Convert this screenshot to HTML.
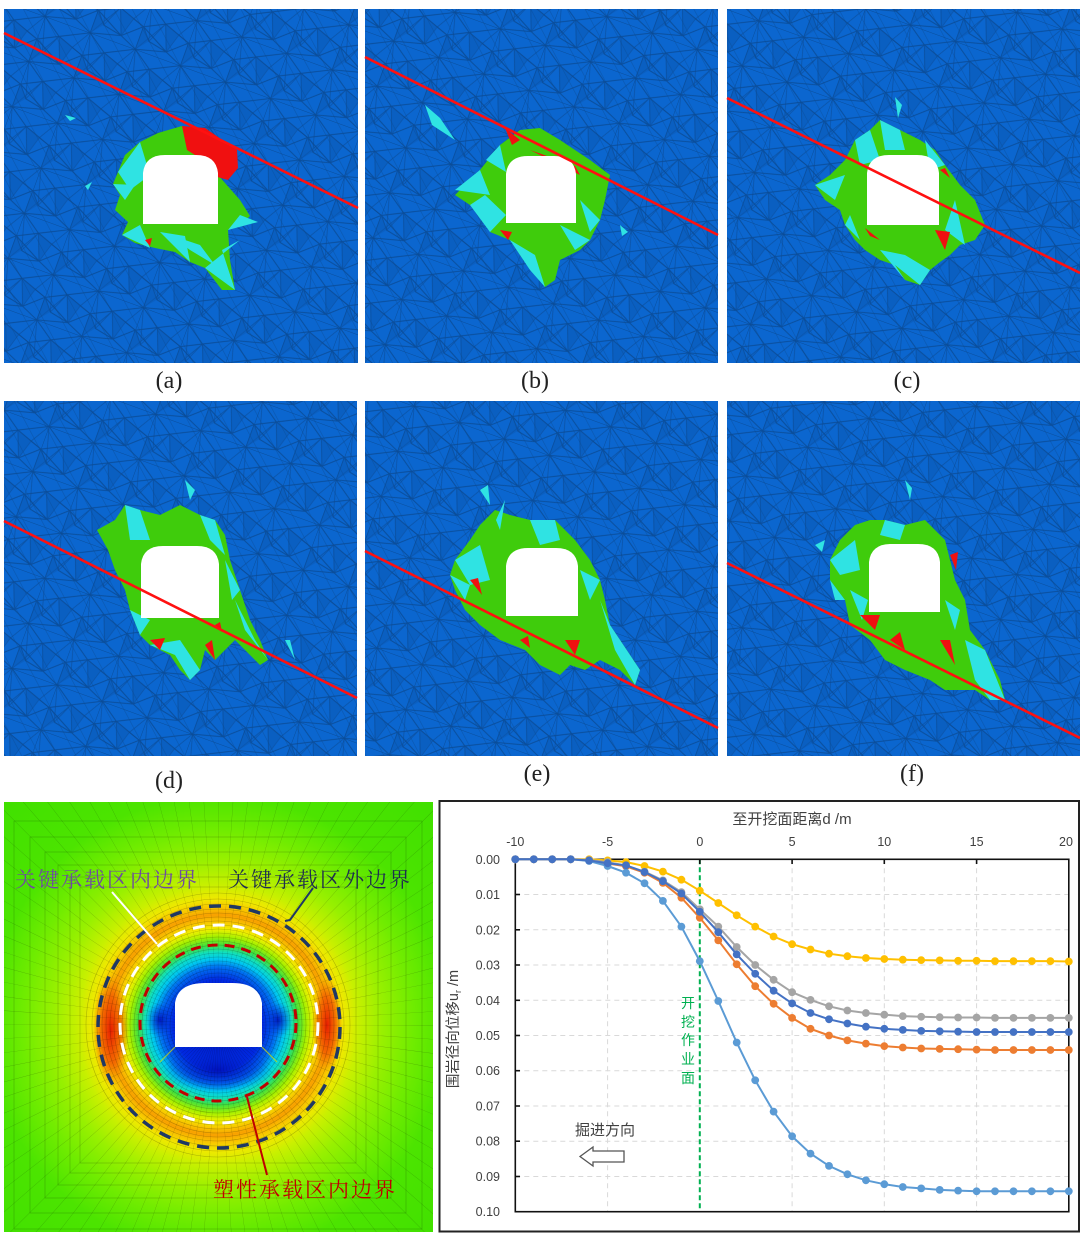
<!DOCTYPE html>
<html>
<head>
<meta charset="utf-8">
<style>
html,body{margin:0;padding:0;background:#fff;}
svg{display:block;}
</style>
</head>
<body>
<svg width="1080" height="1238" viewBox="0 0 1080 1238" xmlns="http://www.w3.org/2000/svg">
<defs>
  <pattern id="mesh" width="48" height="48" patternUnits="userSpaceOnUse" patternTransform="rotate(20)">
    <rect width="48" height="48" fill="#0B66CF"/>
    <path d="M0 0L48 0M0 0L20 14L48 0M20 14L48 24L30 40L0 24L20 14M0 24L0 48L30 40L48 48M48 24L48 48M20 14L30 40M0 0L0 24M30 40L48 24M0 24L10 36L30 40" stroke="#0A4890" stroke-width="1" fill="none" opacity="0.8"/>
    <path d="M20 14L10 36M48 0L36 20L48 24M36 20L20 14M0 0L10 36M20 14L0 48M30 40L36 20" stroke="#0A4890" stroke-width="0.8" fill="none" opacity="0.65"/>
    <polygon points="20,14 36,20 30,40" fill="#0A58B4" opacity="0.5"/>
    <polygon points="0,24 10,36 0,48" fill="#0A58B4" opacity="0.5"/>
  </pattern>
  <pattern id="streak" width="16" height="16" patternUnits="userSpaceOnUse" patternTransform="rotate(-28)">
    <line x1="0" y1="0" x2="0" y2="16" stroke="#0A4A90" stroke-width="1.3" opacity="0.5"/>
  </pattern>
  <radialGradient id="cg" gradientUnits="userSpaceOnUse" cx="218" cy="1025" r="310">
    <stop offset="0" stop-color="#0018C0"/>
    <stop offset="0.145" stop-color="#0028E0"/>
    <stop offset="0.187" stop-color="#0070F0"/>
    <stop offset="0.213" stop-color="#00C8F0"/>
    <stop offset="0.235" stop-color="#10E0C0"/>
    <stop offset="0.258" stop-color="#40E040"/>
    <stop offset="0.284" stop-color="#A0F000"/>
    <stop offset="0.310" stop-color="#F0F000"/>
    <stop offset="0.332" stop-color="#F8C800"/>
    <stop offset="0.355" stop-color="#F8A000"/>
    <stop offset="0.381" stop-color="#F8C800"/>
    <stop offset="0.406" stop-color="#F0E800"/>
    <stop offset="0.452" stop-color="#C8F000"/>
    <stop offset="0.532" stop-color="#98F000"/>
    <stop offset="0.629" stop-color="#70EC00"/>
    <stop offset="0.742" stop-color="#4CE400"/>
    <stop offset="1" stop-color="#40E000"/>
  </radialGradient>
  <radialGradient id="redb">
    <stop offset="0" stop-color="#E81800" stop-opacity="0.95"/>
    <stop offset="0.6" stop-color="#F04000" stop-opacity="0.6"/>
    <stop offset="1" stop-color="#F06000" stop-opacity="0"/>
  </radialGradient>
  <radialGradient id="blueb">
    <stop offset="0" stop-color="#0010B8" stop-opacity="0.9"/>
    <stop offset="1" stop-color="#0030E0" stop-opacity="0"/>
  </radialGradient>
  <clipPath id="cc"><rect x="4" y="802" width="429" height="430"/></clipPath>
  <marker id="mY" markerWidth="10" markerHeight="10" refX="5" refY="5" markerUnits="userSpaceOnUse"><circle cx="5" cy="5" r="3.9" fill="#FFC000"/></marker>
  <marker id="mG" markerWidth="10" markerHeight="10" refX="5" refY="5" markerUnits="userSpaceOnUse"><circle cx="5" cy="5" r="3.9" fill="#A5A5A5"/></marker>
  <marker id="mO" markerWidth="10" markerHeight="10" refX="5" refY="5" markerUnits="userSpaceOnUse"><circle cx="5" cy="5" r="3.9" fill="#ED7D31"/></marker>
  <marker id="mL" markerWidth="10" markerHeight="10" refX="5" refY="5" markerUnits="userSpaceOnUse"><circle cx="5" cy="5" r="3.9" fill="#5B9BD5"/></marker>
  <marker id="mB" markerWidth="10" markerHeight="10" refX="5" refY="5" markerUnits="userSpaceOnUse"><circle cx="5" cy="5" r="3.9" fill="#4472C4"/></marker>
</defs>

<rect width="1080" height="1238" fill="#fff"/>

<!-- ===== Panel (a) ===== -->
<g>
  <rect x="4" y="9" width="354" height="354" fill="url(#mesh)"/>
  <rect x="4" y="9" width="354" height="354" fill="url(#streak)"/>
  <polygon points="118,172 125,155 140,142 158,133 182,126 205,150 218,175 240,200 250,216 240,225 228,230 230,260 235,290 222,290 205,268 190,262 175,252 155,248 135,243 122,235 128,222 115,210 120,195 113,184" fill="#3FCC0C"/>
  <g fill="#2FE3E3">
    <polygon points="118,172 140,142 150,175 130,190"/>
    <polygon points="122,235 150,248 140,225"/>
    <polygon points="205,268 235,290 222,250 240,240"/>
    <polygon points="228,230 258,222 240,215"/>
    <polygon points="160,232 190,262 185,236"/>
    <polygon points="65,115 76,118 70,121"/>
    <polygon points="85,186 92,182 88,190"/>
    <polygon points="113,184 125,200 135,185"/>
    <polygon points="170,235 200,245 215,265 190,250"/>
  </g>
  <polygon points="182,126 205,128 237,150 238,168 228,180 214,176 203,160 187,150" fill="#F01010"/>
  <polygon points="145,240 150,246 152,238" fill="#F01010"/>
  <path d="M143,224 L143,173 Q145,155 165,155 L196,155 Q216,155 218,173 L218,224 Z" fill="#fff"/>
  <line x1="4" y1="33" x2="358" y2="208" stroke="#FF1010" stroke-width="2.6"/>
</g>

<!-- ===== Panel (b) ===== -->
<g>
  <rect x="365" y="9" width="353" height="354" fill="url(#mesh)"/>
  <rect x="365" y="9" width="353" height="354" fill="url(#streak)"/>
  <polygon points="460,190 480,170 500,145 520,130 540,128 560,140 590,160 610,175 605,200 600,220 590,240 580,250 560,260 555,280 545,287 535,275 520,255 510,240 490,232 485,220 470,205 455,195" fill="#3FCC0C"/>
  <g fill="#2FE3E3">
    <polygon points="425,105 432,125 455,140 440,118"/>
    <polygon points="470,205 490,232 506,215 485,195"/>
    <polygon points="510,240 530,270 545,287 535,255"/>
    <polygon points="560,225 590,240 575,250"/>
    <polygon points="455,190 480,170 490,195"/>
    <polygon points="620,225 628,232 622,236"/>
    <polygon points="486,160 500,145 506,172"/>
    <polygon points="580,200 600,220 590,232"/>
  </g>
  <g fill="#F01010">
    <polygon points="505,128 512,145 520,140"/>
    <polygon points="530,150 580,175 575,166"/>
    <polygon points="540,180 555,200 560,185"/>
    <polygon points="500,230 508,240 512,232"/>
  </g>
  <path d="M506,223 L506,174 Q508,156 528,156 L554,156 Q574,156 576,174 L576,223 Z" fill="#fff"/>
  <line x1="365" y1="57" x2="718" y2="235" stroke="#FF1010" stroke-width="2.6"/>
</g>

<!-- ===== Panel (c) ===== -->
<g>
  <rect x="727" y="9" width="353" height="354" fill="url(#mesh)"/>
  <rect x="727" y="9" width="353" height="354" fill="url(#streak)"/>
  <polygon points="815,185 830,175 845,160 855,140 870,130 880,120 900,130 920,140 935,150 945,165 960,185 975,200 985,225 975,240 960,245 950,255 940,262 930,270 920,285 905,280 895,265 880,260 865,250 855,240 845,225 840,210 825,200" fill="#3FCC0C"/>
  <g fill="#2FE3E3">
    <polygon points="855,140 870,130 880,160 860,165"/>
    <polygon points="895,97 898,118 902,105"/>
    <polygon points="815,185 845,175 835,200"/>
    <polygon points="925,140 945,165 930,170"/>
    <polygon points="880,250 905,280 895,265 920,285 930,270 905,255"/>
    <polygon points="845,225 860,240 850,215"/>
    <polygon points="880,120 900,130 905,150 885,150"/>
    <polygon points="945,230 965,245 955,200"/>
  </g>
  <g fill="#F01010">
    <polygon points="865,228 880,240 870,236"/>
    <polygon points="935,230 945,250 950,232"/>
    <polygon points="940,170 950,178 945,168"/>
  </g>
  <path d="M867,225 L867,173 Q869,155 889,155 L917,155 Q937,155 939,173 L939,225 Z" fill="#fff"/>
  <line x1="727" y1="98" x2="1080" y2="273" stroke="#FF1010" stroke-width="2.6"/>
</g>

<!-- ===== Panel (d) ===== -->
<g>
  <rect x="4" y="401" width="353" height="355" fill="url(#mesh)"/>
  <rect x="4" y="401" width="353" height="355" fill="url(#streak)"/>
  <polygon points="97,530 115,520 125,505 140,510 160,515 180,505 200,515 215,520 225,535 230,560 240,590 250,620 260,640 268,660 260,665 245,650 235,640 225,650 215,660 205,650 200,670 190,680 180,670 170,655 150,645 140,635 130,610 125,590 115,570 108,550" fill="#3FCC0C"/>
  <g fill="#2FE3E3">
    <polygon points="185,480 190,500 195,490"/>
    <polygon points="125,505 140,510 150,540 130,540"/>
    <polygon points="200,515 215,520 225,555 210,540"/>
    <polygon points="235,600 255,640 268,660 245,630"/>
    <polygon points="150,645 175,655 190,680 200,670 180,640"/>
    <polygon points="130,610 140,635 150,620"/>
    <polygon points="285,640 295,660 290,640"/>
    <polygon points="225,560 240,590 232,600"/>
  </g>
  <g fill="#F01010">
    <polygon points="150,640 160,650 165,638"/>
    <polygon points="205,645 215,660 212,640"/>
    <polygon points="215,625 222,632 220,622"/>
  </g>
  <path d="M141,618 L141,564 Q143,546 163,546 L197,546 Q217,546 219,564 L219,618 Z" fill="#fff"/>
  <line x1="4" y1="521" x2="357" y2="698" stroke="#FF1010" stroke-width="2.6"/>
</g>

<!-- ===== Panel (e) ===== -->
<g>
  <rect x="365" y="401" width="353" height="355" fill="url(#mesh)"/>
  <rect x="365" y="401" width="353" height="355" fill="url(#streak)"/>
  <polygon points="455,560 470,540 480,525 495,510 510,515 530,520 555,520 575,540 590,560 600,580 605,600 610,625 620,640 640,670 635,685 620,670 600,660 585,670 570,665 560,675 540,665 525,650 500,640 480,625 465,610 455,590 450,575" fill="#3FCC0C"/>
  <g fill="#2FE3E3">
    <polygon points="480,490 490,505 488,485"/>
    <polygon points="455,560 480,545 490,580 470,585"/>
    <polygon points="530,520 555,520 560,540 540,545"/>
    <polygon points="600,600 610,625 640,670 635,685 615,650"/>
    <polygon points="450,575 470,585 465,600"/>
    <polygon points="496,520 505,500 500,530"/>
    <polygon points="580,570 600,580 590,600"/>
  </g>
  <g fill="#F01010">
    <polygon points="470,580 482,595 478,578"/>
    <polygon points="565,640 575,655 580,640"/>
    <polygon points="520,640 530,648 528,636"/>
  </g>
  <path d="M506,616 L506,566 Q508,548 528,548 L556,548 Q576,548 578,566 L578,616 Z" fill="#fff"/>
  <line x1="365" y1="551" x2="718" y2="728" stroke="#FF1010" stroke-width="2.6"/>
</g>

<!-- ===== Panel (f) ===== -->
<g>
  <rect x="727" y="401" width="353" height="355" fill="url(#mesh)"/>
  <rect x="727" y="401" width="353" height="355" fill="url(#streak)"/>
  <polygon points="830,560 840,540 855,525 870,520 885,520 905,525 925,520 945,540 950,560 955,580 965,600 970,630 985,650 1000,680 1005,700 990,700 975,690 960,690 945,690 930,680 905,670 885,660 870,640 850,625 845,600 830,580" fill="#3FCC0C"/>
  <g fill="#2FE3E3">
    <polygon points="905,480 910,500 912,488"/>
    <polygon points="830,560 855,540 860,570 840,575"/>
    <polygon points="885,520 905,525 900,540 880,535"/>
    <polygon points="965,640 985,650 1005,700 990,700 975,680"/>
    <polygon points="830,580 845,600 835,600"/>
    <polygon points="815,545 825,540 822,552"/>
    <polygon points="850,590 868,600 862,620"/>
    <polygon points="945,600 960,610 955,630"/>
  </g>
  <g fill="#F01010">
    <polygon points="860,615 875,630 880,615"/>
    <polygon points="890,640 905,650 900,632"/>
    <polygon points="940,640 955,665 950,640"/>
    <polygon points="950,555 956,570 958,552"/>
  </g>
  <path d="M869,612 L869,562 Q871,544 891,544 L918,544 Q938,544 940,562 L940,612 Z" fill="#fff"/>
  <line x1="727" y1="563" x2="1080" y2="738" stroke="#FF1010" stroke-width="2.6"/>
</g>

<!-- panel labels -->
<g font-family="'Liberation Serif', serif" font-size="24" fill="#222" text-anchor="middle">
  <text x="169" y="388">(a)</text>
  <text x="535" y="388">(b)</text>
  <text x="907" y="388">(c)</text>
  <text x="169" y="788">(d)</text>
  <text x="537" y="781">(e)</text>
  <text x="912" y="781">(f)</text>
</g>

<!-- ===== Contour plot ===== -->
<g clip-path="url(#cc)">
  <rect x="4" y="802" width="429" height="430" fill="url(#cg)"/>
  <ellipse cx="111" cy="1030" rx="18" ry="56" fill="url(#redb)"/>
  <ellipse cx="327" cy="1025" rx="15" ry="48" fill="url(#redb)"/>
  <ellipse cx="218" cy="1070" rx="55" ry="22" fill="url(#blueb)"/>
  <ellipse cx="160" cy="1020" rx="14" ry="18" fill="url(#blueb)"/>
  <ellipse cx="278" cy="1020" rx="14" ry="18" fill="url(#blueb)"/>
  <!-- mesh -->
  <circle cx="218" cy="1025" r="160" fill="none" stroke="#000" stroke-opacity="0.26" stroke-width="320" stroke-dasharray="0.3 10.17"/>
  <g fill="none" stroke="#000" stroke-opacity="0.24" stroke-width="0.6">
    <circle cx="218" cy="1025" r="48"/><circle cx="218" cy="1025" r="52"/><circle cx="218" cy="1025" r="56"/>
    <circle cx="218" cy="1025" r="60"/><circle cx="218" cy="1025" r="64"/><circle cx="218" cy="1025" r="68"/>
    <circle cx="218" cy="1025" r="72"/><circle cx="218" cy="1025" r="76"/><circle cx="218" cy="1025" r="80"/>
    <circle cx="218" cy="1025" r="84"/><circle cx="218" cy="1025" r="88"/><circle cx="218" cy="1025" r="92"/>
    <circle cx="218" cy="1025" r="96"/><circle cx="218" cy="1025" r="100"/><circle cx="218" cy="1025" r="104"/>
    <circle cx="218" cy="1025" r="108"/><circle cx="218" cy="1025" r="112"/><circle cx="218" cy="1025" r="116"/>
    <circle cx="218" cy="1025" r="121"/><circle cx="218" cy="1025" r="126"/><circle cx="218" cy="1025" r="132"/>
    <rect x="80" y="887" width="276" height="276"/>
    <rect x="70" y="877" width="296" height="296"/>
    <rect x="58" y="865" width="320" height="320"/>
    <rect x="45" y="852" width="346" height="346"/>
    <rect x="30" y="837" width="376" height="376"/>
    <rect x="14" y="821" width="408" height="408"/>
  </g>
  <line x1="175" y1="1047" x2="160" y2="1062" stroke="#D8E000" stroke-width="1.2" opacity="0.7"/>
  <line x1="262" y1="1047" x2="277" y2="1062" stroke="#D8E000" stroke-width="1.2" opacity="0.7"/>
  <path d="M175,1047 L175,1003 Q178,983 205,983 L232,983 Q259,983 262,1003 L262,1047 Z" fill="#fff"/>
  <!-- boundaries -->
  <circle cx="219" cy="1027" r="121" fill="none" stroke="#1F3864" stroke-width="3.5" stroke-dasharray="12 8"/>
  <circle cx="219" cy="1024" r="99" fill="none" stroke="#fff" stroke-width="3" stroke-dasharray="12 8"/>
  <circle cx="218" cy="1023" r="78" fill="none" stroke="#C00000" stroke-width="3" stroke-dasharray="10 7"/>
  <line x1="112" y1="892" x2="157" y2="944" stroke="#fff" stroke-width="2"/>
  <polyline points="313,888 290,920 285,921" fill="none" stroke="#1F3864" stroke-width="2"/>
  <line x1="247" y1="1097" x2="267" y2="1175" stroke="#C00000" stroke-width="2"/>
  <g font-family="'Liberation Serif','Noto Serif CJK SC',serif" font-size="21">
    <text x="15" y="887" fill="#6F4BA0" textLength="182" lengthAdjust="spacing">关键承载区内边界</text>
    <text x="228" y="887" fill="#1F2D50" textLength="182" lengthAdjust="spacing">关键承载区外边界</text>
    <text x="213" y="1197" fill="#C00000" textLength="182" lengthAdjust="spacing">塑性承载区内边界</text>
  </g>
</g>

<!-- ===== Chart ===== -->
<rect x="439.5" y="801" width="639.5" height="430.5" fill="#fff" stroke="#222" stroke-width="2"/>
<g stroke="#D9D9D9" stroke-width="1" stroke-dasharray="5 4" fill="none">
  <line x1="515.3" y1="894.5" x2="1068.8" y2="894.5"/>
  <line x1="515.3" y1="929.8" x2="1068.8" y2="929.8"/>
  <line x1="515.3" y1="965.0" x2="1068.8" y2="965.0"/>
  <line x1="515.3" y1="1000.3" x2="1068.8" y2="1000.3"/>
  <line x1="515.3" y1="1035.5" x2="1068.8" y2="1035.5"/>
  <line x1="515.3" y1="1070.7" x2="1068.8" y2="1070.7"/>
  <line x1="515.3" y1="1106.0" x2="1068.8" y2="1106.0"/>
  <line x1="515.3" y1="1141.2" x2="1068.8" y2="1141.2"/>
  <line x1="515.3" y1="1176.5" x2="1068.8" y2="1176.5"/>
  <line x1="607.6" y1="859.3" x2="607.6" y2="1211.7"/>
  <line x1="792.1" y1="859.3" x2="792.1" y2="1211.7"/>
  <line x1="884.3" y1="859.3" x2="884.3" y2="1211.7"/>
  <line x1="976.6" y1="859.3" x2="976.6" y2="1211.7"/>
</g>
<line x1="699.8" y1="859.3" x2="699.8" y2="1211.7" stroke="#00B050" stroke-width="2" stroke-dasharray="5 3"/>
<rect x="515.3" y="859.3" width="553.5" height="352.4" fill="none" stroke="#111" stroke-width="1.6"/>
<g stroke="#111" stroke-width="1.6">
  <line x1="607.6" y1="859.3" x2="607.6" y2="864"/>
  <line x1="699.8" y1="859.3" x2="699.8" y2="864"/>
  <line x1="792.1" y1="859.3" x2="792.1" y2="864"/>
  <line x1="884.3" y1="859.3" x2="884.3" y2="864"/>
  <line x1="976.6" y1="859.3" x2="976.6" y2="864"/>
  <line x1="515.3" y1="894.5" x2="520" y2="894.5"/>
  <line x1="515.3" y1="929.8" x2="520" y2="929.8"/>
  <line x1="515.3" y1="965.0" x2="520" y2="965.0"/>
  <line x1="515.3" y1="1000.3" x2="520" y2="1000.3"/>
  <line x1="515.3" y1="1035.5" x2="520" y2="1035.5"/>
  <line x1="515.3" y1="1070.7" x2="520" y2="1070.7"/>
  <line x1="515.3" y1="1106.0" x2="520" y2="1106.0"/>
  <line x1="515.3" y1="1141.2" x2="520" y2="1141.2"/>
  <line x1="515.3" y1="1176.5" x2="520" y2="1176.5"/>
</g>

<!-- series -->
<g fill="none" stroke-width="2">
<polyline stroke="#FFC000" marker-start="url(#mY)" marker-mid="url(#mY)" marker-end="url(#mY)" points="515.3,859.3 533.8,859.3 552.2,859.3 570.7,859.3 589.1,859.3 607.6,860.4 626.0,862.1 644.5,866.0 662.9,871.6 681.4,879.7 699.8,890.7 718.3,903.0 736.7,915.3 755.2,926.6 773.6,936.5 792.1,944.2 810.5,949.5 829.0,953.7 847.4,956.2 865.9,958.0 884.3,959.0 902.8,959.7 921.2,960.1 939.7,960.4 958.1,960.8 976.6,960.8 995.0,961.1 1013.5,961.1 1031.9,961.1 1050.4,961.1 1068.8,961.5"/>
<polyline stroke="#A5A5A5" marker-start="url(#mG)" marker-mid="url(#mG)" marker-end="url(#mG)" points="515.3,859.3 533.8,859.3 552.2,859.3 570.7,859.3 589.1,860.0 607.6,862.1 626.0,865.6 644.5,871.6 662.9,880.4 681.4,892.1 699.8,909.3 718.3,926.6 736.7,947.0 755.2,965.0 773.6,979.8 792.1,992.2 810.5,999.9 829.0,1006.3 847.4,1010.5 865.9,1013.0 884.3,1014.7 902.8,1016.1 921.2,1016.8 939.7,1017.2 958.1,1017.5 976.6,1017.5 995.0,1017.9 1013.5,1017.9 1031.9,1017.9 1050.4,1017.9 1068.8,1017.9"/>
<polyline stroke="#ED7D31" marker-start="url(#mO)" marker-mid="url(#mO)" marker-end="url(#mO)" points="515.3,859.3 533.8,859.3 552.2,859.3 570.7,859.3 589.1,860.5 607.6,863.5 626.0,866.3 644.5,872.7 662.9,882.9 681.4,897.7 699.8,917.8 718.3,940.4 736.7,964.3 755.2,986.2 773.6,1003.8 792.1,1017.9 810.5,1028.8 829.0,1035.5 847.4,1040.4 865.9,1043.6 884.3,1046.1 902.8,1047.5 921.2,1048.5 939.7,1048.9 958.1,1049.2 976.6,1049.6 995.0,1050.0 1013.5,1050.0 1031.9,1050.0 1050.4,1050.0 1068.8,1050.0"/>
<polyline stroke="#5B9BD5" marker-start="url(#mL)" marker-mid="url(#mL)" marker-end="url(#mL)" points="515.3,859.3 533.8,859.3 552.2,859.3 570.7,859.3 589.1,861.0 607.6,866.0 626.0,872.7 644.5,883.3 662.9,900.9 681.4,926.6 699.8,961.1 718.3,1001.0 736.7,1042.5 755.2,1080.3 773.6,1111.6 792.1,1136.3 810.5,1153.6 829.0,1165.9 847.4,1174.3 865.9,1180.3 884.3,1184.2 902.8,1187.0 921.2,1188.4 939.7,1189.9 958.1,1190.6 976.6,1191.3 995.0,1191.3 1013.5,1191.3 1031.9,1191.3 1050.4,1191.3 1068.8,1191.3"/>
<polyline stroke="#4472C4" marker-start="url(#mB)" marker-mid="url(#mB)" marker-end="url(#mB)" points="515.3,859.3 533.8,859.3 552.2,859.3 570.7,859.3 589.1,860.5 607.6,863.2 626.0,865.3 644.5,872.0 662.9,881.2 681.4,893.5 699.8,911.8 718.3,932.2 736.7,954.4 755.2,973.8 773.6,990.7 792.1,1003.4 810.5,1013.0 829.0,1019.3 847.4,1023.5 865.9,1026.7 884.3,1028.8 902.8,1029.9 921.2,1030.9 939.7,1031.3 958.1,1031.6 976.6,1032.0 995.0,1032.0 1013.5,1032.0 1031.9,1032.0 1050.4,1032.0 1068.8,1032.0"/>
</g>

<!-- tick labels -->
<g font-family="'Liberation Sans',sans-serif" font-size="12.5" fill="#404040">
  <g text-anchor="middle">
    <text x="515.3" y="846">-10</text>
    <text x="607.6" y="846">-5</text>
    <text x="699.8" y="846">0</text>
    <text x="792.1" y="846">5</text>
    <text x="884.3" y="846">10</text>
    <text x="976.6" y="846">15</text>
    <text x="1066" y="846">20</text>
  </g>
  <g text-anchor="end">
    <text x="500" y="863.8">0.00</text>
    <text x="500" y="899.0">0.01</text>
    <text x="500" y="934.3">0.02</text>
    <text x="500" y="969.5">0.03</text>
    <text x="500" y="1004.8">0.04</text>
    <text x="500" y="1040.0">0.05</text>
    <text x="500" y="1075.2">0.06</text>
    <text x="500" y="1110.5">0.07</text>
    <text x="500" y="1145.7">0.08</text>
    <text x="500" y="1181.0">0.09</text>
    <text x="500" y="1216.2">0.10</text>
  </g>
</g>
<g font-family="'Liberation Sans','Noto Sans CJK SC',sans-serif" fill="#404040">
  <text x="792" y="824" font-size="15" text-anchor="middle">至开挖面距离d /m</text>
  <text transform="translate(458,1029) rotate(-90)" font-size="14.5" text-anchor="middle">围岩径向位移u<tspan font-size="9" dy="3">r</tspan><tspan dy="-3"> /m</tspan></text>
  <text x="575" y="1135" font-size="15">掘进方向</text>
</g>
<g font-family="'Liberation Sans','Noto Sans CJK SC',sans-serif" font-size="14" fill="#00B050" text-anchor="middle">
  <text x="688" y="1008">开</text>
  <text x="688" y="1027">挖</text>
  <text x="688" y="1045">作</text>
  <text x="688" y="1064">业</text>
  <text x="688" y="1083">面</text>
</g>
<polygon points="580,1156.5 593,1147 593,1151 624,1151 624,1162 593,1162 593,1166" fill="#fff" stroke="#555" stroke-width="1.3"/>
</svg>
</body>
</html>
